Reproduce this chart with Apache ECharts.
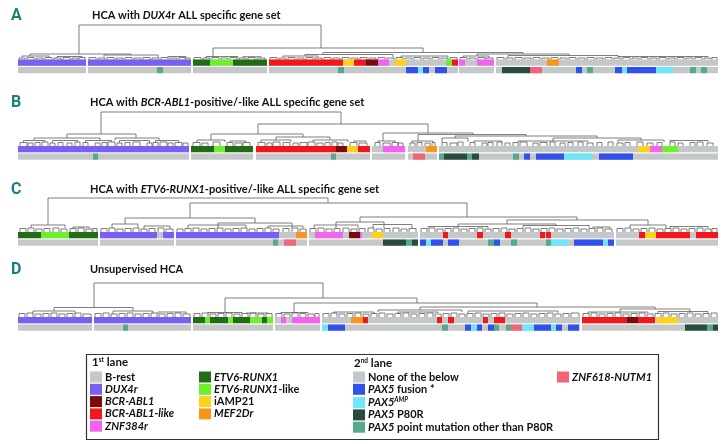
<!DOCTYPE html>
<html>
<head>
<meta charset="utf-8">
<script src="https://cdn.jsdelivr.net/npm/echarts@6/dist/echarts.min.js"></script>
<style>
  html, body { margin: 0; padding: 0; background: #fff; }
  #main { width: 723px; height: 444px; }
</style>
</head>
<body>
<div id="main"></div>
<script>
// x is position along the ordered samples (0..700), h is merge height
var lane1Names = {
  BR: 'B-rest', DUX: 'DUX4r', BA: 'BCR-ABL1', BAL: 'BCR-ABL1-like', ZNF: 'ZNF384r',
  ER: 'ETV6-RUNX1', ERL: 'ETV6-RUNX1-like', IAMP: 'iAMP21', MEF: 'MEF2Dr'
};
var lane2Names = {
  NONE: 'None of the below', FUS: 'PAX5 fusion *', AMP: 'PAX5AMP', P80: 'PAX5 P80R',
  PM: 'PAX5 point mutation other than P80R', NUTM: 'ZNF618-NUTM1'
};
var colors = {
  BR: '#c4c8c8', DUX: '#7b5ef2', BA: '#7a0a0c', BAL: '#f2171a', ZNF: '#f562ef',
  ER: '#236c16', ERL: '#6cf02e', IAMP: '#fdd31a', MEF: '#f6961c',
  NONE: '#c4c8c8', FUS: '#3250ee', AMP: '#70e6fa', P80: '#274a41', PM: '#5aa88c', NUTM: '#f26479'
};

// ---- panel A: DUX4r gene set ----
var groupsA = [[0, 68], [70, 173], [175, 249], [251, 440], [441, 476], [478, 700]];
var lane1A = [[0, 68, 'DUX'], [70, 173, 'DUX'], [175, 192, 'ER'], [192, 215, 'ERL'], [215, 249, 'ER'],
  [251, 325, 'BAL'], [325, 336, 'IAMP'], [336, 348, 'BAL'], [348, 360, 'BA'], [360, 371, 'ZNF'],
  [377, 388, 'IAMP'], [428, 434, 'ERL'], [434, 440, 'BAL'], [441, 447, 'ZNF'], [459, 476, 'ZNF'],
  [529, 541, 'MEF']];
var lane2A = [[139, 145, 'PM'], [320, 326, 'PM'], [388, 400, 'FUS'], [400, 405, 'AMP'], [405, 411, 'FUS'],
  [417, 429, 'FUS'], [484, 512, 'P80'], [512, 524, 'NUTM'], [558, 564, 'FUS'], [569, 575, 'PM'],
  [597, 604, 'FUS'], [604, 609, 'AMP'], [609, 638, 'FUS'], [638, 655, 'AMP'], [672, 678, 'PM'], [683, 689, 'PM']];
var linksA = [[61, 303, 34.5, 5.5, 11.5], [12, 113, 5.5, 3.5, 4.5], [195, 405, 11.5, 3, 7],
  [305, 505, 7, 5, 5.5], [459, 551, 5.5, 3.5, 4],
  [4, 31, 3.5, 2, 2], [39, 64, 3, 1.5, 1.5], [86, 140, 4.5, 2, 1.5], [150, 168, 3, 1.5, 1.5],
  [188, 220, 3, 1.5, 2], [225, 243, 2.8, 1.5, 2], [265, 300, 3.5, 2, 2], [287, 375, 5, 3.5, 2],
  [383, 430, 3.5, 2, 2], [445, 471, 3.5, 2, 1.5], [490, 600, 4, 2, 3], [600, 690, 3, 2, 2]];
var teethA = [[1, 7, 1.5], [9, 16, 2], [18, 25, 1.5], [27, 34, 2], [36, 43, 1.5], [45, 52, 2], [54, 60, 1.5], [61, 67, 2],
  [71, 78, 2], [80, 87, 1.5], [89, 96, 2], [98, 105, 1.5], [107, 114, 2], [116, 123, 1.5], [125, 132, 2],
  [134, 141, 1.5], [143, 150, 2], [152, 159, 1.5], [161, 167, 2], [168, 172, 1.5],
  [176, 183, 2], [185, 192, 1.5], [194, 201, 2], [203, 210, 1.5], [212, 219, 2], [221, 228, 1.5], [230, 237, 2], [239, 247, 1.5],
  [252, 259, 2], [261, 268, 1.5], [270, 277, 2], [279, 286, 1.5], [288, 295, 2], [297, 304, 1.5], [306, 313, 2],
  [315, 322, 1.5], [324, 331, 2], [333, 340, 1.5], [342, 349, 2], [351, 358, 1.5], [360, 367, 2], [369, 376, 1.5],
  [378, 385, 2], [387, 394, 1.5], [396, 403, 2], [405, 412, 1.5], [414, 421, 2], [423, 430, 1.5], [432, 439, 2],
  [442, 449, 2], [451, 458, 1.5], [460, 467, 2], [468, 475, 1.5],
  [479, 486, 2], [488, 495, 1.5], [497, 504, 2], [506, 513, 1.5], [515, 522, 2], [524, 531, 1.5], [533, 540, 2],
  [542, 549, 1.5], [551, 558, 2], [560, 567, 1.5], [569, 576, 2], [578, 585, 1.5], [587, 594, 2], [596, 603, 1.5],
  [605, 612, 2], [614, 621, 1.5], [623, 630, 2], [632, 639, 1.5], [641, 648, 2], [650, 657, 1.5], [659, 666, 2],
  [668, 675, 1.5], [677, 684, 2], [686, 693, 1.5], [694, 699, 2]];

// ---- panel B: BCR-ABL1-positive/-like gene set ----
var groupsB = [[0, 171], [173, 235], [238, 352], [354, 387], [390, 419], [421, 700]];
var lane1B = [[0, 171, 'DUX'], [173, 196, 'ER'], [196, 207, 'ERL'], [207, 235, 'ER'],
  [238, 318, 'BAL'], [318, 329, 'BA'], [329, 340, 'IAMP'], [340, 352, 'BAL'], [365, 387, 'ZNF'],
  [408, 419, 'MEF'], [620, 632, 'IAMP'], [632, 644, 'ZNF'], [644, 660, 'ERL']];
var lane2B = [[75, 80, 'PM'], [313, 318, 'PM'], [395, 407, 'NUTM'], [421, 426, 'PM'], [426, 449, 'P80'],
  [449, 454, 'PM'], [454, 461, 'P80'], [495, 501, 'PM'], [506, 512, 'FUS'], [518, 546, 'FUS'],
  [546, 574, 'AMP'], [581, 615, 'FUS']];
var linksB = [[83, 323, 34, 12, 22], [49, 118, 12, 8, 8], [240, 410, 22, 12, 13], [193, 285, 12, 6, 9],
  [365, 455, 13, 5, 11.5], [400, 508, 11.5, 5, 10], [437, 579, 10, 8, 8],
  [16, 82, 8, 5.5, 5.5], [97, 141, 8, 5.5, 5.5], [5.5, 27, 5.5, 3.5, 4], [34.5, 59.5, 5.5, 3, 4],
  [67.5, 93.5, 5.5, 3.5, 4], [101.5, 131.5, 5.5, 3, 3], [137.5, 160.5, 5.5, 3.5, 3.5],
  [179, 207, 6, 3.5, 4], [212, 228, 5, 3.5, 3.5],
  [258, 312, 9, 6, 6], [243, 273, 6, 3.5, 4], [295, 330, 6, 4, 4], [336, 348, 5, 4, 3.5],
  [360, 377, 5, 3, 3], [394, 415, 5, 3, 3.5],
  [424, 450, 8, 4, 4], [535, 623, 8, 5, 6], [500, 570, 5, 4, 4], [600, 646, 6, 4, 4], [652, 690, 5.5, 4, 4],
  [456, 484, 5, 4, 3.5]];
var teethB = [[2, 9, 3.5], [10, 15, 3], [17, 22, 3.5], [24, 30, 4], [32, 37, 3], [40, 45, 3.5], [49, 54, 3], [57, 62, 4],
  [65, 70, 3.5], [77, 82, 3], [84, 89, 3.5], [90, 97, 4], [99, 104, 3], [107, 112, 3.5], [115, 122, 4], [129, 134, 3],
  [135, 140, 3.5], [142, 149, 4], [150, 155, 3], [157, 164, 3.5], [165, 170, 3],
  [175, 182, 3.5], [184, 190, 3], [195, 202, 4], [209, 215, 3.5], [217, 224, 3], [225, 232, 3.5],
  [240, 247, 3.5], [249, 254, 3], [255, 262, 4], [265, 272, 3.5], [275, 280, 3], [282, 289, 3.5], [290, 297, 4],
  [299, 305, 3], [307, 312, 3.5], [314, 319, 4], [320, 325, 3], [332, 339, 3.5], [341, 349, 3],
  [357, 362, 3.5], [365, 372, 3], [374, 380, 3.5], [380, 385, 3],
  [392, 397, 3], [399, 404, 3.5], [407, 412, 3], [414, 417, 3.5],
  [424, 429, 3.5], [432, 439, 3], [440, 445, 4], [452, 457, 3.5], [464, 469, 3], [470, 475, 3.5], [479, 484, 4],
  [487, 492, 3], [495, 500, 3.5], [502, 509, 4], [515, 520, 3], [522, 529, 3.5], [532, 537, 4], [542, 547, 3],
  [550, 555, 3.5], [560, 565, 4], [569, 575, 3], [579, 584, 3.5], [590, 595, 4], [599, 605, 3], [607, 612, 3.5],
  [619, 625, 4], [629, 635, 3], [639, 644, 3.5], [652, 657, 4], [660, 665, 3], [672, 677, 3.5], [679, 685, 4],
  [689, 695, 3]];

// ---- panel C: ETV6-RUNX1-positive/-like gene set ----
var groupsC = [[0, 80], [82, 156], [158, 289], [291, 400], [402, 596], [598, 700]];
var lane1C = [[0, 23, 'ER'], [23, 51, 'ERL'], [51, 80, 'ER'], [82, 139, 'DUX'], [145, 156, 'DUX'],
  [158, 261, 'DUX'], [278, 289, 'MEF'], [297, 325, 'ZNF'], [331, 342, 'BA'], [342, 344, 'ZNF'],
  [354, 365, 'IAMP'], [425, 430, 'BAL'], [459, 465, 'BAL'], [487, 493, 'BAL'], [522, 527, 'BAL'],
  [528, 533, 'BAL'], [621, 627, 'BAL'], [627, 638, 'IAMP'], [638, 672, 'BAL'], [678, 700, 'BAL']];
var lane2C = [[255, 260, 'PM'], [266, 278, 'NUTM'], [365, 388, 'P80'], [388, 394, 'PM'], [394, 400, 'P80'],
  [402, 408, 'FUS'], [408, 413, 'AMP'], [413, 425, 'FUS'], [430, 441, 'FUS'], [470, 476, 'PM'],
  [476, 482, 'FUS'], [493, 499, 'PM'], [528, 533, 'PM'], [533, 550, 'AMP'], [556, 585, 'FUS'],
  [585, 590, 'AMP'], [590, 596, 'FUS']];
var linksC = [[30, 310, 34, 7, 29], [172, 449, 29, 14, 15], [107, 237, 14, 8, 9], [342, 559, 15, 10, 12],
  [489, 630, 12, 8, 7],
  [13, 47, 7, 4, 4], [55, 71, 5, 3.5, 3.5], [94, 120, 8, 4, 4], [126, 152, 6, 3, 3],
  [200, 274, 9, 4, 4], [170, 228, 7, 3.5, 4], [250, 285, 6, 4, 3.5],
  [318, 366, 10, 4, 4], [296, 340, 7, 3.5, 3.5], [355, 394, 7.5, 4, 3.5],
  [440, 538, 8, 5, 6], [410, 470, 5.5, 3.5, 3.5], [505, 571, 6.5, 4, 4], [575, 592, 5, 4, 3],
  [612, 648, 7, 4, 4], [652, 690, 5.5, 3.5, 3.5]];
var teethC = [[2, 8, 3.5], [10, 16, 4], [18, 24, 3], [26, 32, 3.5], [35, 41, 4], [43, 49, 3], [52, 58, 3.5], [60, 66, 4],
  [68, 74, 3], [75, 79, 3.5],
  [83, 89, 3.5], [91, 97, 4], [99, 105, 3], [107, 113, 3.5], [115, 121, 4], [123, 129, 3], [131, 137, 3.5],
  [140, 146, 4], [148, 155, 3],
  [159, 165, 3], [167, 173, 3.5], [175, 181, 4], [183, 189, 3], [191, 197, 3.5], [199, 205, 4], [207, 213, 3],
  [215, 221, 3.5], [223, 229, 4], [231, 237, 3], [239, 245, 3.5], [247, 253, 4], [255, 261, 3], [265, 271, 3.5],
  [274, 280, 4], [282, 288, 3],
  [292, 298, 3.5], [300, 306, 4], [308, 314, 3], [316, 322, 3.5], [325, 331, 4], [333, 339, 3], [341, 347, 3.5],
  [350, 356, 4], [358, 364, 3], [366, 372, 3.5], [375, 381, 4], [383, 389, 3], [391, 398, 3.5],
  [403, 409, 3.5], [411, 417, 4], [419, 425, 3], [427, 433, 3.5], [435, 441, 4], [443, 449, 3], [451, 457, 3.5],
  [459, 465, 4], [467, 473, 3], [475, 481, 3.5], [483, 489, 4], [491, 497, 3], [499, 505, 3.5], [507, 513, 4],
  [515, 521, 3], [523, 529, 3.5], [531, 537, 4], [539, 545, 3], [547, 553, 3.5], [555, 561, 4], [563, 569, 3],
  [571, 577, 3.5], [579, 585, 4], [587, 594, 3],
  [599, 605, 3.5], [607, 613, 4], [615, 621, 3], [623, 629, 3.5], [631, 637, 4], [639, 645, 3], [647, 653, 3.5],
  [655, 661, 4], [663, 669, 3], [671, 677, 3.5], [679, 685, 4], [687, 693, 3], [694, 699, 3.5]];

// ---- panel D: unsupervised ----
var groupsD = [[0, 74], [76, 173], [175, 255], [257, 302], [304, 562], [564, 700]];
var lane1D = [[0, 74, 'DUX'], [76, 173, 'DUX'], [175, 187, 'ER'], [187, 192, 'ERL'], [192, 210, 'ER'],
  [210, 215, 'ERL'], [215, 232, 'ER'], [232, 244, 'ERL'], [244, 249, 'ER'], [249, 255, 'ERL'],
  [263, 268, 'ZNF'], [274, 302, 'ZNF'], [333, 345, 'MEF'], [345, 350, 'BAL'], [419, 424, 'BAL'],
  [430, 436, 'BAL'], [465, 470, 'BAL'], [476, 487, 'BAL'], [564, 609, 'BAL'], [609, 620, 'BA'],
  [620, 637, 'BAL'], [639, 660, 'IAMP']];
var lane2D = [[105, 110, 'PM'], [304, 310, 'AMP'], [310, 327, 'FUS'], [424, 430, 'PM'], [447, 453, 'FUS'],
  [453, 459, 'AMP'], [459, 464, 'FUS'], [470, 476, 'FUS'], [476, 481, 'PM'], [488, 493, 'PM'],
  [493, 504, 'NUTM'], [504, 516, 'AMP'], [516, 533, 'FUS'], [533, 538, 'AMP'], [538, 544, 'FUS'],
  [550, 561, 'FUS'], [667, 689, 'P80'], [689, 695, 'PM'], [695, 700, 'P80']];
var linksD = [[76, 305, 34, 9.5, 19], [36, 115, 9.5, 6, 6], [207, 399, 19, 4.5, 14], [276, 519, 14, 4.5, 10],
  [402, 637, 10, 7, 8],
  [15, 57, 6, 3.5, 3.5], [95, 135, 6, 3, 3.5], [140, 168, 5, 3, 3], [190, 224, 4.5, 3, 3], [228, 250, 4, 3.5, 3.5],
  [263, 290, 4.5, 3, 3.5], [360, 444, 7, 5, 5], [316, 356, 5, 3.5, 3.5], [380, 420, 5, 3, 4], [450, 540, 6, 4, 4],
  [602, 672, 8, 5, 5.5], [570, 630, 5, 3.5, 4], [640, 690, 5.5, 4, 4]];
var teethD = [[1, 7, 3.5], [9, 15, 4], [17, 23, 3], [25, 31, 3.5], [33, 39, 4], [41, 47, 3], [49, 55, 3.5], [57, 63, 4],
  [65, 73, 3],
  [77, 83, 3.5], [85, 91, 4], [93, 99, 3], [101, 107, 3.5], [109, 115, 4], [117, 123, 3], [125, 131, 3.5],
  [133, 139, 4], [141, 147, 3], [149, 155, 3.5], [157, 163, 4], [165, 172, 3],
  [176, 182, 3.5], [184, 190, 4], [192, 198, 3], [200, 206, 3.5], [208, 214, 4], [216, 222, 3], [224, 230, 3.5],
  [232, 238, 4], [240, 246, 3], [248, 254, 3.5],
  [258, 264, 3.5], [266, 272, 3], [274, 280, 4], [282, 288, 3.5], [290, 296, 3], [297, 301, 3.5],
  [305, 311, 3.5], [313, 319, 4], [321, 327, 3], [329, 335, 3.5], [337, 343, 4], [345, 351, 3], [353, 359, 3.5],
  [361, 367, 4], [369, 375, 3], [377, 383, 3.5], [385, 391, 4], [393, 399, 3], [401, 407, 3.5], [409, 415, 4],
  [417, 423, 3], [425, 431, 3.5], [433, 439, 4], [441, 447, 3], [449, 455, 3.5], [457, 463, 4], [465, 471, 3],
  [473, 479, 3.5], [481, 487, 4], [489, 495, 3], [497, 503, 3.5], [505, 511, 4], [513, 519, 3], [521, 527, 3.5],
  [529, 535, 4], [537, 543, 3], [545, 551, 3.5], [553, 561, 4],
  [565, 571, 3.5], [573, 579, 4], [581, 587, 3], [589, 595, 3.5], [597, 603, 4], [605, 611, 3], [613, 619, 3.5],
  [621, 627, 4], [629, 635, 3], [637, 643, 3.5], [645, 651, 4], [653, 659, 3], [661, 667, 3.5], [669, 675, 4],
  [677, 683, 3], [685, 691, 3.5], [693, 699, 4]];

var panels = [
  { letter: 'A', title: 'HCA with {i|DUX4}r ALL specific gene set', titleLeft: 92, titleTop: 10, laneTop: 59.5,
    groups: groupsA, lane1: lane1A, lane2: lane2A, links: linksA, teeth: teethA },
  { letter: 'B', title: 'HCA with {i|BCR-ABL1}-positive/-like ALL specific gene set', titleLeft: 90, titleTop: 97, laneTop: 146,
    groups: groupsB, lane1: lane1B, lane2: lane2B, links: linksB, teeth: teethB },
  { letter: 'C', title: 'HCA with {i|ETV6-RUNX1}-positive/-like ALL specific gene set', titleLeft: 90, titleTop: 184, laneTop: 232,
    groups: groupsC, lane1: lane1C, lane2: lane2C, links: linksC, teeth: teethC },
  { letter: 'D', title: 'Unsupervised HCA', titleLeft: 90, titleTop: 264, laneTop: 317,
    groups: groupsD, lane1: lane1D, lane2: lane2D, links: linksD, teeth: teethD }
];

var FONT = 'Lato';
var grids = [], xAxes = [], yAxes = [], series = [], titles = [];

function renderCell(params, api) {
  var s = api.coord([api.value(0), api.value(2)]);
  var e = api.coord([api.value(1), api.value(2)]);
  var band = api.size([0, 1])[1];
  return {
    type: 'rect',
    shape: { x: s[0], y: s[1] - band / 2, width: e[0] - s[0], height: band - 1.3 },
    style: { fill: api.visual('color') }
  };
}

function renderLink(params, api) {
  var xl = api.value(0), xr = api.value(1), h = api.value(2);
  var pts = [api.coord([xl, api.value(3)]), api.coord([xl, h]), api.coord([xr, h]), api.coord([xr, api.value(4)])];
  return {
    type: 'polyline',
    shape: { points: pts },
    style: { stroke: '#5e5e5e', fill: null, lineWidth: 0.8 }
  };
}

panels.forEach(function (p) {
  var gTree = grids.length, gLane = gTree + 1;
  grids.push({ left: 18, right: 5, top: p.laneTop - 40, height: 40 });
  grids.push({ left: 18, right: 5, top: p.laneTop, height: 15 });
  xAxes.push({ type: 'value', gridIndex: gTree, min: 0, max: 700, show: false });
  xAxes.push({ type: 'value', gridIndex: gLane, min: 0, max: 700, show: false });
  yAxes.push({ type: 'value', gridIndex: gTree, min: 0, max: 40, show: false });
  yAxes.push({ type: 'category', gridIndex: gLane, data: ['1st', '2nd'], inverse: true, show: false });

  series.push({
    type: 'custom', name: 'tree' + p.letter, xAxisIndex: gTree, yAxisIndex: gTree,
    renderItem: renderLink, clip: false, silent: true,
    data: p.links.concat(p.teeth.map(function (t) { return [t[0], t[1], t[2], 0, 0]; }))
  });

  // grey background per cluster
  series.push({
    type: 'custom', name: lane1Names.BR, xAxisIndex: gLane, yAxisIndex: gLane,
    itemStyle: { color: colors.BR }, renderItem: renderCell, z: 1,
    data: p.groups.map(function (g) { return [g[0], g[1], 0]; })
  });
  series.push({
    type: 'custom', name: lane2Names.NONE, xAxisIndex: gLane, yAxisIndex: gLane,
    itemStyle: { color: colors.NONE }, renderItem: renderCell, z: 1,
    data: p.groups.map(function (g) { return [g[0], g[1], 1]; })
  });
  Object.keys(lane1Names).forEach(function (k) {
    if (k === 'BR') return;
    series.push({
      type: 'custom', name: lane1Names[k], xAxisIndex: gLane, yAxisIndex: gLane,
      itemStyle: { color: colors[k] }, renderItem: renderCell, z: 2,
      data: p.lane1.filter(function (d) { return d[2] === k; }).map(function (d) { return [d[0], d[1], 0]; })
    });
  });
  Object.keys(lane2Names).forEach(function (k) {
    if (k === 'NONE') return;
    series.push({
      type: 'custom', name: lane2Names[k], xAxisIndex: gLane, yAxisIndex: gLane,
      itemStyle: { color: colors[k] }, renderItem: renderCell, z: 2,
      data: p.lane2.filter(function (d) { return d[2] === k; }).map(function (d) { return [d[0], d[1], 1]; })
    });
  });

  titles.push({
    text: p.letter, left: 11, top: p.titleTop - 2,
    textStyle: { color: '#16807f', fontFamily: 'Roboto', fontWeight: 'bold', fontSize: 16 }
  });
  titles.push({
    text: p.title, left: p.titleLeft, top: p.titleTop,
    textStyle: {
      color: '#111', fontFamily: FONT, fontWeight: 'bold', fontSize: 11,
      rich: { i: { fontStyle: 'italic', fontWeight: 'bold', fontFamily: FONT, fontSize: 11, color: '#111' } }
    }
  });
});

var rich = {
  i: { fontStyle: 'italic', fontWeight: 'bold', fontFamily: FONT, fontSize: 11, color: '#111' },
  s: { fontStyle: 'italic', fontWeight: 'bold', fontFamily: FONT, fontSize: 6.5, color: '#111', padding: [0, 0, 6, 0] }
};
var legendLabels = {
  'B-rest': 'B-rest', 'DUX4r': '{i|DUX4r}', 'BCR-ABL1': '{i|BCR-ABL1}', 'BCR-ABL1-like': '{i|BCR-ABL1-like}',
  'ZNF384r': '{i|ZNF384r}', 'ETV6-RUNX1': '{i|ETV6-RUNX1}', 'ETV6-RUNX1-like': '{i|ETV6-RUNX1}-like',
  'iAMP21': 'iAMP21', 'MEF2Dr': '{i|MEF2Dr}', 'None of the below': 'None of the below',
  'PAX5 fusion *': '{i|PAX5} fusion *', 'PAX5AMP': '{i|PAX5}{s|AMP}', 'PAX5 P80R': '{i|PAX5} P80R',
  'PAX5 point mutation other than P80R': '{i|PAX5} point mutation other than P80R', 'ZNF618-NUTM1': '{i|ZNF618-NUTM1}'
};
function legendAt(names, left) {
  return {
    data: names, left: left, top: 371.5, orient: 'vertical', icon: 'rect',
    itemWidth: 12, itemHeight: 11, itemGap: 1.3, selectedMode: false, padding: 0,
    formatter: function (n) { return legendLabels[n]; },
    textStyle: { fontFamily: FONT, fontWeight: 'bold', fontSize: 11, color: '#111', padding: [0, 0, 0, -2], rich: rich }
  };
}

var supRich = { s: { fontWeight: 'bold', fontFamily: FONT, fontSize: 6.5, color: '#111', padding: [0, 0, 6, 0] } };
titles.push({
  text: '1{s|st} lane', left: 92, top: 356,
  textStyle: { fontFamily: FONT, fontWeight: 'bold', fontSize: 11.5, color: '#111', rich: supRich }
});
titles.push({
  text: '2{s|nd} lane', left: 354, top: 357,
  textStyle: { fontFamily: FONT, fontWeight: 'bold', fontSize: 11.5, color: '#111', rich: supRich }
});
titles.forEach(function (t) { t.padding = 0; });

var chart = echarts.init(document.getElementById('main'), null, { renderer: 'canvas' });
chart.setOption({
  animation: false,
  backgroundColor: '#fff',
  title: titles,
  grid: grids,
  xAxis: xAxes,
  yAxis: yAxes,
  legend: [
    legendAt(['B-rest', 'DUX4r', 'BCR-ABL1', 'BCR-ABL1-like', 'ZNF384r'], 90),
    legendAt(['ETV6-RUNX1', 'ETV6-RUNX1-like', 'iAMP21', 'MEF2Dr'], 199),
    legendAt(['None of the below', 'PAX5 fusion *', 'PAX5AMP', 'PAX5 P80R', 'PAX5 point mutation other than P80R'], 353),
    legendAt(['ZNF618-NUTM1'], 557)
  ],
  graphic: [{
    type: 'rect', left: 84, top: 352, shape: { width: 572, height: 85 },
    style: { fill: null, stroke: '#333', lineWidth: 1.2 }
  }],
  series: series
});
</script>
</body>
</html>
